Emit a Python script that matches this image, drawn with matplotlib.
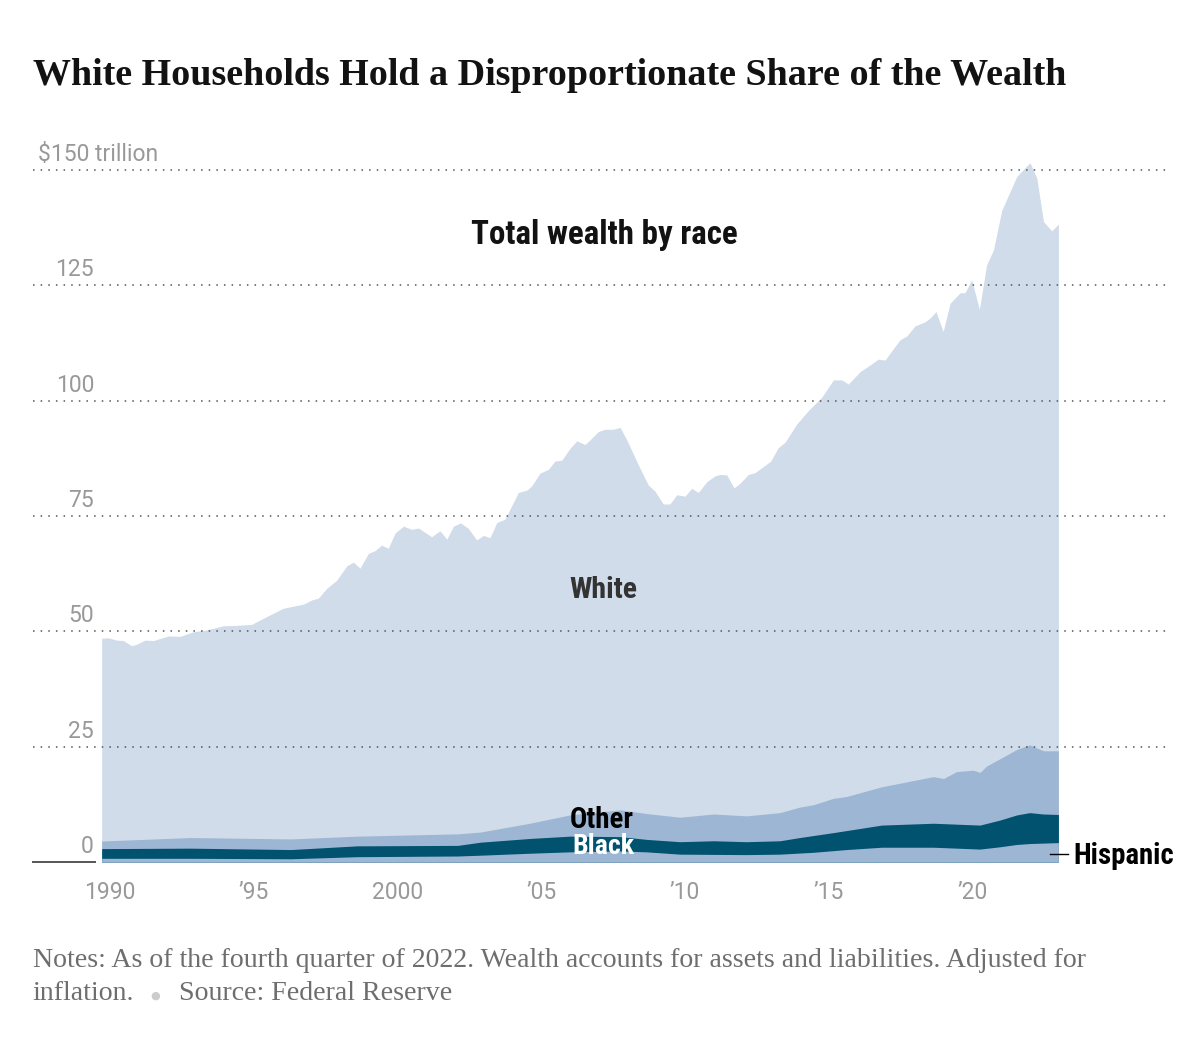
import matplotlib
matplotlib.use('Agg')
import matplotlib.pyplot as plt
from matplotlib import font_manager
import numpy as np

# ---------------- data (trillions of dollars, cumulative stack tops) ----------------
total_years = [1989.71, 1989.94, 1990.23, 1990.46, 1990.75, 1990.93, 1991.22, 1991.51,
               1992.03, 1992.44, 1992.90, 1993.36, 1993.94, 1994.41, 1994.93, 1995.45,
               1996.03, 1996.73, 1997.02, 1997.25, 1997.54, 1997.89, 1998.24, 1998.47,
               1998.70, 1998.99, 1999.22, 1999.45, 1999.68, 1999.92, 2000.21, 2000.50,
               2000.73, 2001.19, 2001.48, 2001.72, 2001.95, 2002.20, 2002.47, 2002.76,
               2002.99, 2003.22, 2003.46, 2003.74, 2004.21, 2004.50, 2004.67, 2004.96,
               2005.25, 2005.48, 2005.72, 2006.01, 2006.24, 2006.53, 2006.70, 2006.99,
               2007.22, 2007.51, 2007.75, 2007.98, 2008.38, 2008.73, 2008.96, 2009.25,
               2009.48, 2009.72, 2010.01, 2010.24, 2010.47, 2010.76, 2011.05, 2011.22,
               2011.46, 2011.71, 2011.92, 2012.21, 2012.44, 2012.73, 2012.99, 2013.25,
               2013.49, 2013.89, 2014.32, 2014.76, 2015.17, 2015.46, 2015.69, 2016.10,
               2016.44, 2016.73, 2016.97, 2017.20, 2017.49, 2017.72, 2018.01, 2018.36,
               2018.53, 2018.74, 2018.99, 2019.23, 2019.58, 2019.75, 2019.98, 2020.25,
               2020.50, 2020.74, 2021.03, 2021.55, 2022.01, 2022.25, 2022.48, 2022.77,
               2023.00]
total_wealth = [48.5, 48.6, 48.1, 48.0, 46.9, 47.2, 48.1, 48.0,
                49.0, 48.9, 49.9, 50.3, 51.2, 51.3, 51.5, 53.2,
                55.0, 55.9, 56.8, 57.2, 59.3, 61.1, 64.2, 65.0,
                63.7, 66.9, 67.5, 68.7, 68.0, 71.3, 72.8, 72.1,
                72.4, 70.5, 71.8, 70.0, 72.8, 73.5, 72.3, 69.8,
                70.8, 70.3, 73.6, 74.3, 80.1, 80.6, 81.5, 84.3,
                85.1, 86.9, 87.1, 89.7, 91.3, 90.5, 91.5, 93.3,
                93.8, 93.8, 94.2, 91.5, 86.1, 81.7, 80.4, 77.6,
                77.6, 79.6, 79.3, 81.0, 80.1, 82.4, 83.7, 84.0,
                83.9, 81.1, 82.1, 84.0, 84.4, 85.7, 86.9, 89.8,
                91.0, 94.9, 98.0, 100.7, 104.5, 104.5, 103.6, 106.3,
                107.7, 109.0, 108.8, 110.8, 113.2, 114.0, 116.2, 117.1,
                117.9, 119.3, 115.0, 121.1, 123.4, 123.4, 126.2, 119.8,
                129.4, 132.7, 141.3, 148.6, 151.6, 148.2, 138.8, 136.8,
                138.3]

other_years = [1989.71, 1992.8, 1996.3, 1998.6, 2002.1, 2002.9, 2004.61, 2006.0,
               2007.75, 2008.67, 2009.83, 2011.0, 2012.15, 2013.31, 2014.0, 2014.47,
               2015.17, 2015.63, 2016.85, 2018.65, 2019.0, 2019.46, 2020.04, 2020.27,
               2020.5, 2020.97, 2021.55, 2022.0, 2022.48, 2023.0]
other_top = [4.55, 5.3, 5.0, 5.6, 6.1, 6.5, 8.4, 10.2,
             11.3, 10.5, 9.7, 10.4, 10.0, 10.7, 11.9, 12.4,
             13.8, 14.2, 16.3, 18.5, 18.1, 19.6, 19.9, 19.4,
             20.8, 22.4, 24.4, 25.4, 24.1, 24.1]

black_years = [1989.71, 1992.8, 1996.3, 1998.6, 2002.1, 2002.9, 2004.61, 2006.0,
               2007.75, 2008.67, 2009.83, 2011.0, 2012.15, 2013.31, 2014.0, 2015.2,
               2016.85, 2018.65, 2019.46, 2020.27, 2020.97, 2021.55, 2022.0, 2022.48,
               2023.0]
black_top = [2.9, 3.0, 2.7, 3.5, 3.6, 4.3, 5.1, 5.6,
             5.5, 4.9, 4.4, 4.6, 4.4, 4.6, 5.3, 6.4,
             8.0, 8.4, 8.2, 8.0, 9.1, 10.2, 10.7, 10.4,
             10.3]

hisp_years = [1989.71, 1992.8, 1996.3, 1998.6, 2002.1, 2003.0, 2004.61, 2006.0,
              2007.75, 2008.67, 2009.83, 2012.15, 2013.31, 2014.47, 2015.63, 2016.85,
              2018.65, 2019.46, 2020.27, 2020.97, 2021.55, 2022.0, 2023.0]
hisp_top = [0.8, 0.8, 0.7, 1.15, 1.3, 1.5, 1.9, 2.2,
            2.4, 2.2, 1.7, 1.6, 1.7, 2.1, 2.7, 3.2,
            3.2, 3.0, 2.8, 3.3, 3.8, 4.0, 4.2]

y_ticks = [0, 25, 50, 75, 100, 125, 150]
y_tick_labels = ['0', '25', '50', '75', '100', '125', '$150 trillion']
x_ticks = [1990, 1995, 2000, 2005, 2010, 2015, 2020]
x_tick_labels = ['1990', '\u201995', '2000', '\u201905', '\u201910', '\u201915', '\u201920']

# ---------------- styling ----------------
C_WHITE = '#d0dcea'
C_OTHER = '#9db6d4'
C_BLACK = '#00526e'
C_HISP = '#9db6d4'
GRAY = '#999999'

names = {f.name for f in font_manager.fontManager.ttflist}
def pick(*cands):
    for c in cands:
        if c in names:
            return c
    return 'DejaVu Sans'
SANS = pick('Roboto', 'Liberation Sans', 'DejaVu Sans')
SANS_B = pick('Liberation Sans Narrow', 'Roboto Condensed', 'Roboto', 'Liberation Sans')
SERIF = pick('Liberation Serif', 'DejaVu Serif')

W, H = 1200, 1044
fig = plt.figure(figsize=(W / 100, H / 100), dpi=100)
fig.patch.set_facecolor('white')

PX_PER_YEAR = 28.74
PX_1990 = 110.0
PX_PER_UNIT = (862 - 170) / 150.0

def px2year(px):
    return 1990 + (px - PX_1990) / PX_PER_YEAR

ax_left_px, ax_right_px = 33, 1170
ax_bottom_py, ax_top_py = 862, 133
ax = fig.add_axes([ax_left_px / W, (H - ax_bottom_py) / H,
                   (ax_right_px - ax_left_px) / W, (ax_bottom_py - ax_top_py) / H])
x0, x1 = px2year(ax_left_px), px2year(ax_right_px)
ax.set_xlim(x0, x1)
ax.set_ylim(0, (ax_bottom_py - ax_top_py) / PX_PER_UNIT)
for s in ax.spines.values():
    s.set_visible(False)
ax.set_facecolor('none')

# stacked layers (drawn back to front, each from its cumulative top down to zero)
ax.fill_between(total_years, 0, total_wealth, color=C_WHITE, lw=0, zorder=1)
ax.fill_between(other_years, 0, other_top, color=C_OTHER, lw=0, zorder=2)
ax.fill_between(black_years, 0, black_top, color=C_BLACK, lw=0, zorder=3)
ax.fill_between(hisp_years, 0, hisp_top, color=C_HISP, lw=0, zorder=4)

# gridlines
for v in y_ticks[1:]:
    ax.plot([x0, x1], [v, v], color='#555555', lw=1.1, ls=(0, (1, 4)), zorder=5,
            solid_capstyle='butt')
ax.plot([x0, px2year(95)], [0, 0], color='#555555', lw=1.4, zorder=5, clip_on=False)

# y tick labels
off = 9 / PX_PER_UNIT
for v, lab in zip(y_ticks, y_tick_labels):
    if lab.startswith('$'):
        ax.text(px2year(38), v + off, lab, ha='left', va='baseline', color=GRAY,
                fontsize=16.5, family=SANS, zorder=6)
    else:
        ax.text(px2year(94), v + off, lab, ha='right', va='baseline', color=GRAY,
                fontsize=16.5, family=SANS, zorder=6)

# x ticks
ax.set_xticks(x_ticks)
ax.set_xticklabels(x_tick_labels, fontsize=16.5, color=GRAY, family=SANS)
ax.tick_params(axis='x', length=0, pad=14)
ax.set_yticks([])

fig.canvas.draw()
renderer = fig.canvas.get_renderer()

def fit(t, target_w):
    bb = t.get_window_extent(renderer)
    t.set_fontsize(t.get_fontsize() * target_w / bb.width)

def fx(px):
    return px / W

def fy(py):
    return 1 - py / H

# title
t = fig.text(fx(33), fy(85), 'White Households Hold a Disproportionate Share of the Wealth',
             ha='left', va='baseline', fontsize=28, fontweight='bold', family=SERIF,
             color='#121212')
fit(t, 1034)

# in-chart labels
t = fig.text(fx(604), fy(244), 'Total wealth by race', ha='center', va='baseline',
             fontsize=20, fontweight='bold', family=SANS_B, color='#121212')
fit(t, 266)
t = fig.text(fx(603.5), fy(598), 'White', ha='center', va='baseline',
             fontsize=18, fontweight='bold', family=SANS_B, color='#333333')
fit(t, 68)
t = fig.text(fx(570), fy(828), 'Other', ha='left', va='baseline',
             fontsize=18, fontweight='bold', family=SANS_B, color='#000000', zorder=10)
fit(t, 64)
t = fig.text(fx(572), fy(854), 'Black', ha='left', va='baseline',
             fontsize=18, fontweight='bold', family=SANS_B, color='#ffffff', zorder=10)
fit(t, 62)
t = fig.text(fx(1073), fy(864), 'Hispanic', ha='left', va='baseline',
             fontsize=18, fontweight='bold', family=SANS_B, color='#000000')
fit(t, 100)
ax.plot([px2year(1050), px2year(1068)], [8 / PX_PER_UNIT] * 2, color='#000000',
        lw=1.0, zorder=7, clip_on=False)

# footnote
t = fig.text(fx(33), fy(967), 'Notes: As of the fourth quarter of 2022. Wealth accounts '
             'for assets and liabilities. Adjusted for', ha='left', va='baseline',
             fontsize=17, family=SERIF, color='#6e6e6e')
fit(t, 1055)
fs = t.get_fontsize()
fig.text(fx(32), fy(1000), 'inflation.', ha='left', va='baseline', fontsize=fs,
         family=SERIF, color='#6e6e6e')
fig.text(fx(155), fy(996), '\u25cf', ha='center', va='center', fontsize=fs * 0.4,
         family='DejaVu Sans', color='#cccccc')
fig.text(fx(179), fy(1000), 'Source: Federal Reserve', ha='left', va='baseline',
         fontsize=fs, family=SERIF, color='#6e6e6e')

fig.savefig('out.png', dpi=100, facecolor='white')
